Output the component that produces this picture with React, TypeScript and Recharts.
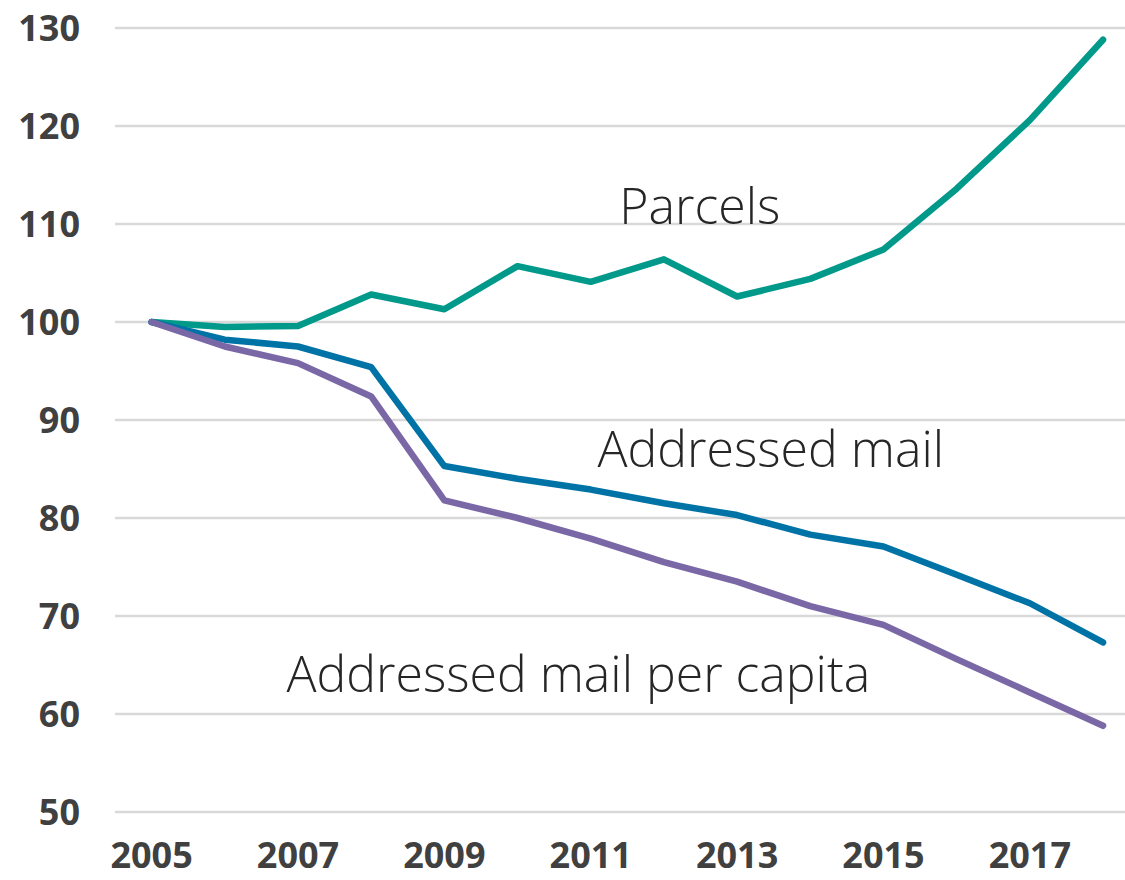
import React from 'react';
import {
  LineChart,
  Line,
  CartesianGrid,
  XAxis,
  YAxis,
  ReferenceDot
} from 'recharts';

// Index, 2005 = 100
const years = [2005, 2006, 2007, 2008, 2009, 2010, 2011, 2012, 2013, 2014, 2015, 2016, 2017, 2018];
const parcels = [100, 99.5, 99.6, 102.8, 101.3, 105.7, 104.1, 106.4, 102.6, 104.4, 107.4, 113.6, 120.6, 128.8];
const addressedMail = [100, 98.2, 97.5, 95.4, 85.3, 84.0, 82.9, 81.5, 80.3, 78.3, 77.1, 74.2, 71.3, 67.3];
const perCapita = [100, 97.5, 95.8, 92.4, 81.8, 80.0, 77.9, 75.5, 73.5, 71.0, 69.1, 65.6, 62.2, 58.8];

const xTicks = [2005, 2007, 2009, 2011, 2013, 2015, 2017];
const yTicks = [50, 60, 70, 80, 90, 100, 110, 120, 130];

const seriesLabels = ['Parcels', 'Addressed mail', 'Addressed mail per capita'];
const labelYears = [2012.49, 2013.46, 2010.83];
const labelValues = [110, 85.2, 62.2];

const COLORS = ['#00998a', '#0073a6', '#7a67a6'];
const FONT = '"Open Sans", "Noto Sans", sans-serif';

const data = years.map((y, i) => ({
  year: y,
  parcels: parcels[i],
  mail: addressedMail[i],
  capita: perCapita[i]
}));

const SeriesLabel = ({ viewBox, value }: any) => {
  if (!viewBox) return null;
  const cx = viewBox.cx ?? viewBox.x;
  const cy = viewBox.cy ?? viewBox.y;
  return (
    <text
      x={cx}
      y={cy}
      textAnchor="middle"
      fill="#262626"
      fontSize={50}
      fontWeight={300}
      fontFamily={FONT}
    >
      {value}
    </text>
  );
};

const App: React.FC = () => {
  return (
    <div style={{ position: 'absolute', left: 0, top: 0, background: '#fff' }}>
      <LineChart
        width={1125}
        height={880}
        data={data}
        margin={{ top: 28, right: 0, left: 0, bottom: 0 }}
      >
        <CartesianGrid vertical={false} stroke="#d9d9d9" strokeWidth={2.5} />
        <XAxis
          dataKey="year"
          type="number"
          domain={[2004.5, 2018.3]}
          ticks={xTicks}
          allowDataOverflow
          axisLine={false}
          tickLine={false}
          tickSize={0}
          tickMargin={30}
          height={68}
          tick={{ fill: '#404040', fontSize: 36, fontWeight: 700, fontFamily: FONT }}
        />
        <YAxis
          type="number"
          domain={[50, 130]}
          ticks={yTicks}
          width={115}
          axisLine={false}
          tickLine={false}
          tickSize={0}
          tickMargin={35}
          tick={{ fill: '#404040', fontSize: 36, fontWeight: 700, fontFamily: FONT }}
        />
        <Line
          dataKey="parcels"
          stroke={COLORS[0]}
          strokeWidth={6.5}
          strokeLinecap="round"
          strokeLinejoin="round"
          dot={false}
          isAnimationActive={false}
        />
        <Line
          dataKey="mail"
          stroke={COLORS[1]}
          strokeWidth={6.5}
          strokeLinecap="round"
          strokeLinejoin="round"
          dot={false}
          isAnimationActive={false}
        />
        <Line
          dataKey="capita"
          stroke={COLORS[2]}
          strokeWidth={6.5}
          strokeLinecap="round"
          strokeLinejoin="round"
          dot={false}
          isAnimationActive={false}
        />
        {seriesLabels.map((name, i) => (
          <ReferenceDot
            key={name}
            x={labelYears[i]}
            y={labelValues[i]}
            r={0}
            fill="none"
            stroke="none"
            label={<SeriesLabel value={name} />}
          />
        ))}
      </LineChart>
    </div>
  );
};

export default App;
